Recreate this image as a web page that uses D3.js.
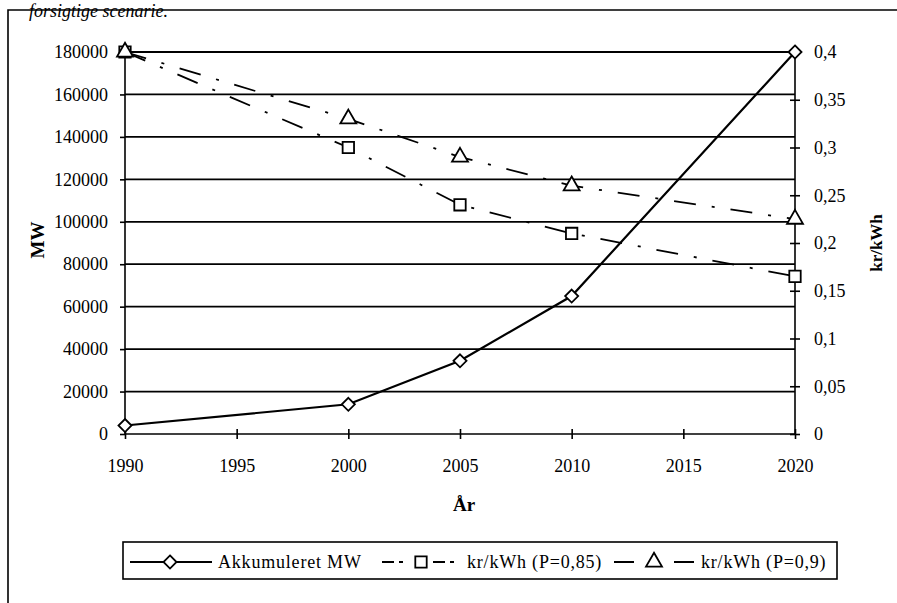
<!DOCTYPE html>
<html>
<head>
<meta charset="utf-8">
<script src="https://cdn.jsdelivr.net/npm/d3@7"></script>
<style>
  body { margin: 0; background: #fff; }
  svg { display: block; font-family: "Liberation Serif", "Times New Roman", serif; }
  .axis path, .axis line { stroke: #000; stroke-width: 1.6; }
  .axis text { font-size: 18px; fill: #000; }
</style>
</head>
<body>
<div id="chart"></div>
<script>
// data
const years = [1990, 2000, 2005, 2010, 2020];
const akkumuleretMW = [4000, 14000, 34500, 65000, 180000];
const krP085 = [0.4, 0.30, 0.24, 0.21, 0.165];
const krP09 = [0.4, 0.33, 0.29, 0.26, 0.225];
const xTicks = [1990, 1995, 2000, 2005, 2010, 2015, 2020];
const mwTicks = [0, 20000, 40000, 60000, 80000, 100000, 120000, 140000, 160000, 180000];
const krTicks = [0, 0.05, 0.1, 0.15, 0.2, 0.25, 0.3, 0.35, 0.4];

const width = 897, height = 603;
const plot = { left: 125, right: 795, top: 52, bottom: 434 };

const svg = d3.select('#chart').append('svg')
  .attr('width', width)
  .attr('height', height);

// caption above the frame
svg.append('text')
  .attr('x', 168).attr('y', 17)
  .attr('text-anchor', 'end')
  .style('font-style', 'italic')
  .style('font-size', '18px')
  .text('forsigtige scenarie.');

// frame
svg.append('path')
  .attr('d', 'M8,' + height + 'V10H' + width)
  .attr('fill', 'none')
  .attr('stroke', '#000')
  .attr('stroke-width', 1.6);

const x = d3.scaleLinear().domain([1990, 2020]).range([plot.left, plot.right]);
const yMW = d3.scaleLinear().domain([0, 180000]).range([plot.bottom, plot.top]);
const yKr = d3.scaleLinear().domain([0, 0.4]).range([plot.bottom, plot.top]);

// gridlines
svg.append('g')
  .selectAll('line')
  .data(mwTicks.filter((d) => d > 0))
  .enter().append('line')
  .attr('x1', plot.left).attr('x2', plot.right)
  .attr('y1', (d) => yMW(d)).attr('y2', (d) => yMW(d))
  .attr('stroke', '#000')
  .attr('stroke-width', 1.8);

// axes
const gx = svg.append('g')
  .attr('class', 'axis')
  .attr('transform', 'translate(0,' + plot.bottom + ')')
  .call(d3.axisBottom(x).tickValues(xTicks).tickFormat(d3.format('d')).tickSize(5).tickPadding(20));
gx.selectAll('.tick line').attr('y1', -5).attr('y2', 5);
gx.select('.domain').attr('d', 'M' + plot.left + ',0H' + plot.right);

const gl = svg.append('g')
  .attr('class', 'axis')
  .attr('transform', 'translate(' + plot.left + ',0)')
  .call(d3.axisLeft(yMW).tickValues(mwTicks).tickFormat(d3.format('d')).tickSize(5).tickPadding(12));
gl.select('.domain').attr('d', 'M0,' + plot.top + 'V' + plot.bottom);

const gr = svg.append('g')
  .attr('class', 'axis')
  .attr('transform', 'translate(' + plot.right + ',0)')
  .call(d3.axisRight(yKr).tickValues(krTicks)
    .tickFormat((d) => String(+d.toFixed(2)).replace('.', ','))
    .tickSize(5).tickPadding(14));
gr.selectAll('.tick line').attr('x1', -5).attr('x2', 5);
gr.select('.domain').attr('d', 'M0,' + plot.top + 'V' + plot.bottom);

svg.selectAll('.axis').attr('font-family', null).attr('font-size', null);
svg.selectAll('.axis .domain').attr('fill', 'none');

// axis titles
svg.append('text')
  .attr('transform', 'translate(44,240) rotate(-90)')
  .attr('text-anchor', 'middle')
  .style('font-weight', 'bold').style('font-size', '19px')
  .text('MW');
svg.append('text')
  .attr('transform', 'translate(882,243) rotate(-90)')
  .attr('text-anchor', 'middle')
  .style('font-weight', 'bold').style('font-size', '17px')
  .text('kr/kWh');
svg.append('text')
  .attr('x', 464).attr('y', 511)
  .attr('text-anchor', 'middle')
  .style('font-weight', 'bold').style('font-size', '19px')
  .text('År');

// square rotated 45 degrees, as in the original
const symbolRhomb = {
  draw(context, size) {
    const r = Math.sqrt(size / 2);
    context.moveTo(0, -r);
    context.lineTo(r, 0);
    context.lineTo(0, r);
    context.lineTo(-r, 0);
    context.closePath();
  }
};

// series
const dash = '22,16,3,16';
const series = [
  { name: 'kr/kWh (P=0,85)', values: krP085, y: yKr, dash: dash, shape: d3.symbolSquare, size: 130 },
  { name: 'kr/kWh (P=0,9)', values: krP09, y: yKr, dash: dash, shape: d3.symbolTriangle, size: 110 },
  { name: 'Akkumuleret MW', values: akkumuleretMW, y: yMW, dash: null, shape: symbolRhomb, size: 85 }
];

series.forEach((s) => {
  const pts = years.map((yr, i) => [x(yr), s.y(s.values[i])]);
  svg.append('path')
    .attr('d', d3.line()(pts))
    .attr('fill', 'none')
    .attr('stroke', '#000')
    .attr('stroke-width', s.dash ? 1.8 : 2.2)
    .attr('stroke-dasharray', s.dash);
  svg.append('g').selectAll('path')
    .data(pts)
    .enter().append('path')
    .attr('transform', (d) => 'translate(' + d[0] + ',' + d[1] + ')')
    .attr('d', d3.symbol().type(s.shape).size(s.size))
    .attr('fill', '#fff')
    .attr('stroke', '#000')
    .attr('stroke-width', 1.8);
});

// legend
const legend = svg.append('g');
legend.append('rect')
  .attr('x', 123).attr('y', 542)
  .attr('width', 714).attr('height', 37)
  .attr('fill', '#fff').attr('stroke', '#000').attr('stroke-width', 1.6);

const legendItems = [
  { s: series[2], x0: 130, x1: 212, mark: 170, tx: 218, dash: null },
  { s: series[0], x0: 382, x1: 458, mark: 421, tx: 467, dash: '12,5,4,30' },
  { s: series[1], x0: 614, x1: 695, mark: 654, tx: 701, dash: '20,40' }
];
legendItems.forEach((it) => {
  legend.append('line')
    .attr('x1', it.x0).attr('x2', it.x1)
    .attr('y1', 562).attr('y2', 562)
    .attr('stroke', '#000').attr('stroke-width', 1.8)
    .attr('stroke-dasharray', it.dash);
  legend.append('path')
    .attr('transform', 'translate(' + it.mark + ',562)')
    .attr('d', d3.symbol().type(it.s.shape).size(it.s.size))
    .attr('fill', '#fff').attr('stroke', '#000').attr('stroke-width', 1.8);
  legend.append('text')
    .attr('x', it.tx).attr('y', 568)
    .style('font-size', '18px')
    .style('letter-spacing', '0.8px')
    .text(it.s.name);
});
</script>
</body>
</html>
